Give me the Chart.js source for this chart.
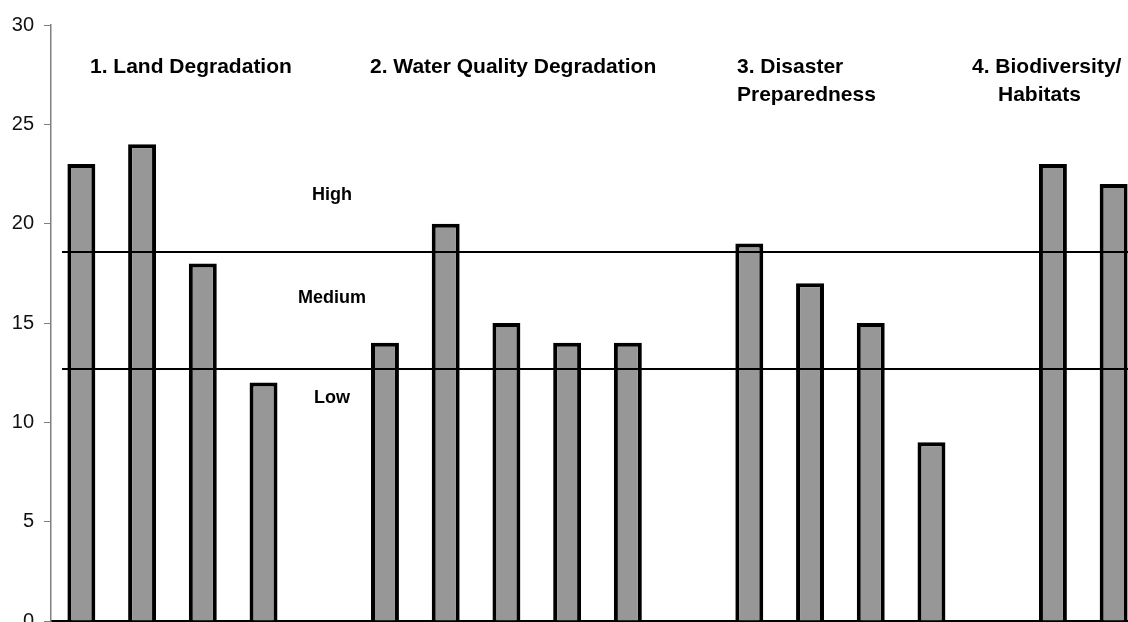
<!DOCTYPE html>
<html>
<head>
<meta charset="utf-8">
<script src="https://cdn.jsdelivr.net/npm/chart.js@4"></script>
<style>
  html, body { margin: 0; padding: 0; background: #fff; overflow: hidden; }
  #wrap { width: 1150px; height: 660px; }
</style>
</head>
<body>
<div id="wrap"><canvas id="chart"></canvas></div>
<script>
// 18 slots, null = gap between the four groups
const slots = ["", "", "", "", "", "", "", "", "", "", "", "", "", "", "", "", "", ""];
const scores = [23, 24, 18, 12, null, 14, 20, 15, 14, 14, null, 19, 17, 15, 9, null, 23, 22];
const yTicks = [0, 5, 10, 15, 20, 25, 30];
const thresholds = [18.57, 12.68];
const groupTitles = [
  ["1. Land Degradation"],
  ["2. Water Quality Degradation"],
  ["3. Disaster", "Preparedness"],
  ["4. Biodiversity/", "Habitats"],
];
const levelLabels = ["High", "Medium", "Low"];

const annotations = {
  id: "annotations",
  afterDatasetsDraw(chart) {
    const { ctx, chartArea, scales } = chart;
    ctx.save();

    // threshold lines
    ctx.strokeStyle = "#000";
    ctx.lineWidth = 2;
    thresholds.forEach((v) => {
      const y = Math.round(scales.y.getPixelForValue(v));
      ctx.beginPath();
      ctx.moveTo(62, y);
      ctx.lineTo(chartArea.right, y);
      ctx.stroke();
    });

    // group titles
    ctx.fillStyle = "#000";
    ctx.font = "bold 21px 'Liberation Sans', Arial, sans-serif";
    ctx.textBaseline = "alphabetic";
    ctx.textAlign = "left";
    const titlePos = [[90, 73], [370, 73], [737, 73], [972, 73]];
    groupTitles.forEach((lines, i) => {
      const [x, y] = titlePos[i];
      ctx.fillText(lines[0], x, y);
      if (lines[1]) {
        const x2 = i === 3 ? 998 : x;
        ctx.fillText(lines[1], x2, y + 28);
      }
    });

    // level labels
    ctx.font = "bold 18px 'Liberation Sans', Arial, sans-serif";
    ctx.textAlign = "center";
    const levelY = [200, 303, 403];
    levelLabels.forEach((t, i) => ctx.fillText(t, 332, levelY[i]));

    ctx.restore();
  },
};

new Chart(document.getElementById("chart"), {
  type: "bar",
  data: {
    labels: slots,
    datasets: [
      {
        data: scores,
        backgroundColor: "#979797",
        borderColor: "#000",
        borderWidth: 4,
        barPercentage: 0.46,
        categoryPercentage: 1,
      },
    ],
  },
  options: {
    responsive: true,
    maintainAspectRatio: false,
    animation: false,
    layout: { padding: { top: 25, right: 6, bottom: 39, left: 0 } },
    plugins: { legend: { display: false }, tooltip: { enabled: false } },
    scales: {
      x: {
        grid: { display: false },
        border: { color: "#000", width: 2 },
        ticks: { display: false },
        afterFit: (s) => { s.height = 0; },
      },
      y: {
        min: 0,
        max: 30,
        afterBuildTicks: (s) => { s.ticks = yTicks.map((v) => ({ value: v })); },
        grid: { drawOnChartArea: false, drawTicks: true, tickLength: 7, color: "#808080" },
        border: { color: "#808080", width: 1.5 },
        ticks: {
          padding: 10,
          color: "#111",
          font: { family: "'Liberation Sans', Arial, sans-serif", size: 20 },
        },
        afterFit: (s) => { s.width = 51; },
      },
    },
  },
  plugins: [annotations],
});
</script>
</body>
</html>
